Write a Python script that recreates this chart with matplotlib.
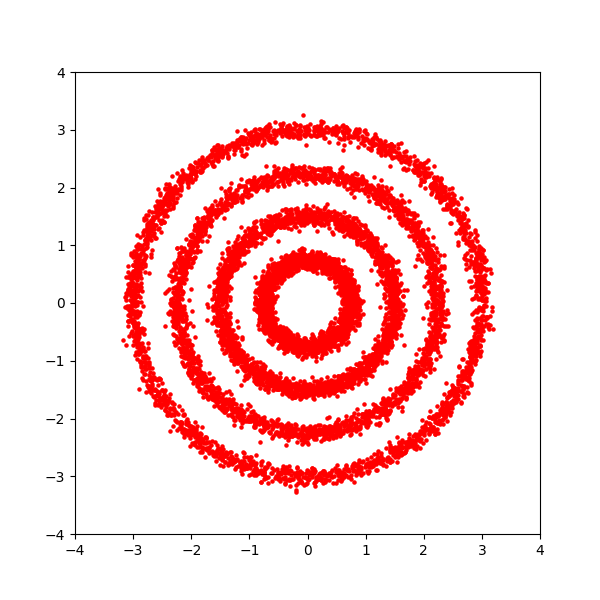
import numpy as np
import matplotlib
matplotlib.use("Agg")
import matplotlib.pyplot as plt

# Ring parameters
ring_radii = [0.75, 1.5, 2.25, 3.0]
ring_points = [2500, 2500, 2500, 2500]
ring_noise = [0.08, 0.08, 0.08, 0.08]
axis_limits = [-4, 4]
tick_values = [-4, -3, -2, -1, 0, 1, 2, 3, 4]

rng = np.random.default_rng(0)
xs, ys = [], []
for r, n, sd in zip(ring_radii, ring_points, ring_noise):
    t = rng.uniform(0, 2 * np.pi, n)
    xs.append(r * np.cos(t) + rng.normal(0, sd, n))
    ys.append(r * np.sin(t) + rng.normal(0, sd, n))
x = np.concatenate(xs)
y = np.concatenate(ys)

fig, ax = plt.subplots(figsize=(6, 6), dpi=100)
ax.scatter(x, y, s=5, c="r")
ax.set_xlim(axis_limits)
ax.set_ylim(axis_limits)
ax.set_xticks(tick_values)
ax.set_yticks(tick_values)
fig.savefig("out.png")
